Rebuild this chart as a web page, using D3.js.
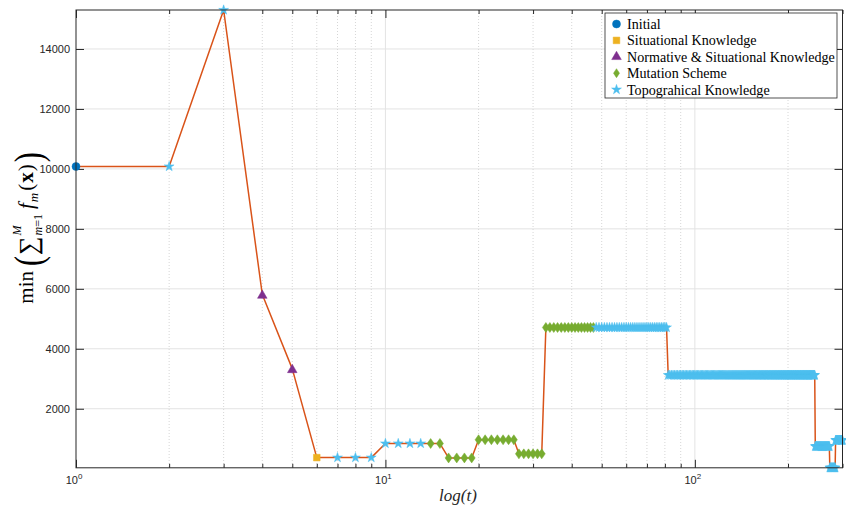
<!DOCTYPE html>
<html>
<head>
<meta charset="utf-8">
<script src="https://cdn.jsdelivr.net/npm/d3@7"></script>
<style>
  body { margin: 0; background: #fff; }
  svg { display: block; }
</style>
</head>
<body>
<svg id="chart" width="846" height="509"></svg>
<script>
// Best objective value per iteration, stored as runs of equal value with the
// operator that produced the points of each run.
const runStart  = [1,     2,     3,     4,    5,    6,   7,   10,  14,  16,  20,  27,  33,   48,   82,   245, 273, 285];
const runEnd    = [1,     2,     3,     4,    5,    6,   9,   13,  15,  19,  26,  32,  47,   81,   244,  272, 284, 300];
const runValue  = [10080, 10080, 15300, 5810, 3330, 370, 370, 840, 840, 360, 965, 495, 4710, 4710, 3120, 745, 30,  950];
const runSource = [0,     4,     4,     2,    2,    1,   4,   4,   3,   3,   3,   3,   3,    4,    4,    4,   4,   4];

const sources = ["Initial", "Situational Knowledge", "Normative & Situational Knowledge",
                 "Mutation Scheme", "Topograhical Knowledge"];
const sourceColors = ["#0072BD", "#EDB120", "#7E2F8E", "#77AC30", "#4DBEEE"];

const yTicks = [2000, 4000, 6000, 8000, 10000, 12000, 14000];
const xMajorTicks = [1, 10, 100];
const xMinorTicks = [2, 3, 4, 5, 6, 7, 8, 9, 20, 30, 40, 50, 60, 70, 80, 90, 200, 300];

// Expand the runs into one point per iteration
const points = [];
runStart.forEach((s, i) => {
  for (let t = s; t <= runEnd[i]; t++) points.push({ t, v: runValue[i], src: runSource[i] });
});

const svg = d3.select("#chart");
const L = 76, R = 842.5, T = 10, B = 467.8;

const x = d3.scaleLog().domain([1, 300]).range([L, R]);
const y = d3.scaleLinear().domain([30, 15300]).range([B, T]);

const axisColor = "#262626";
const tickFont = "'Liberation Sans', Arial, Helvetica, sans-serif";
const serif = "'Liberation Serif', 'Times New Roman', serif";

// Grid
const grid = svg.append("g");
grid.selectAll(".gy").data(yTicks).join("line")
  .attr("x1", L).attr("x2", R).attr("y1", d => y(d)).attr("y2", d => y(d))
  .attr("stroke", "#e3e3e3").attr("stroke-width", 1);
grid.selectAll(".gxm").data(xMinorTicks).join("line")
  .attr("x1", d => x(d)).attr("x2", d => x(d)).attr("y1", T).attr("y2", B)
  .attr("stroke", "#d6d6d6").attr("stroke-width", 1).attr("stroke-dasharray", "1,2");
grid.selectAll(".gx").data(xMajorTicks.filter(d => d > 1)).join("line")
  .attr("x1", d => x(d)).attr("x2", d => x(d)).attr("y1", T).attr("y2", B)
  .attr("stroke", "#e3e3e3").attr("stroke-width", 1);

// Axes (ticks pointing inward, mirrored on top and right)
const axB = d3.axisBottom(x).tickValues(xMajorTicks).tickSize(-8).tickFormat("");
const axBm = d3.axisBottom(x).tickValues(xMinorTicks).tickSize(-4).tickFormat("");
const axT = d3.axisTop(x).tickValues(xMajorTicks).tickSize(-8).tickFormat("");
const axTm = d3.axisTop(x).tickValues(xMinorTicks).tickSize(-4).tickFormat("");
const axL = d3.axisLeft(y).tickValues(yTicks).tickSize(-8).tickFormat("");
const axR = d3.axisRight(y).tickValues(yTicks).tickSize(-8).tickFormat("");

function styleAxis(g) {
  g.select(".domain").remove();
  g.selectAll(".tick line").attr("stroke", axisColor).attr("stroke-width", 1);
}
svg.append("g").attr("transform", `translate(0,${B})`).call(axB).call(styleAxis);
svg.append("g").attr("transform", `translate(0,${B})`).call(axBm).call(styleAxis);
svg.append("g").attr("transform", `translate(0,${T})`).call(axT).call(styleAxis);
svg.append("g").attr("transform", `translate(0,${T})`).call(axTm).call(styleAxis);
svg.append("g").attr("transform", `translate(${L},0)`).call(axL).call(styleAxis);
svg.append("g").attr("transform", `translate(${R},0)`).call(axR).call(styleAxis);

// Tick labels
svg.append("g").selectAll("text").data(yTicks).join("text")
  .attr("x", L - 6).attr("y", d => y(d)).attr("dy", "0.35em")
  .attr("text-anchor", "end").attr("font-family", tickFont).attr("font-size", 11)
  .attr("fill", axisColor).text(d => d);

const xl = svg.append("g").selectAll("text").data(xMajorTicks).join("text")
  .attr("x", d => x(d) - 2).attr("y", 484)
  .attr("text-anchor", "middle").attr("font-family", tickFont).attr("font-size", 11)
  .attr("fill", axisColor);
xl.append("tspan").text("10");
xl.append("tspan").attr("dy", -5).attr("font-size", 8).text(d => Math.round(Math.log10(d)));

// Series line
svg.append("path").datum(points)
  .attr("d", d3.line().x(d => x(d.t)).y(d => y(d.v)))
  .attr("fill", "none").attr("stroke", "#D95319").attr("stroke-width", 1.5)
  .attr("stroke-linejoin", "round");

// Marker shapes per operator
function diamondPath(w, h) {
  return `M0,${-h / 2}L${w / 2},0L0,${h / 2}L${-w / 2},0Z`;
}
const markerPath = [
  d3.symbol(d3.symbolCircle, 50)(),
  d3.symbol(d3.symbolSquare, 44)(),
  d3.symbol(d3.symbolTriangle, 40)(),
  diamondPath(7, 10),
  d3.symbol(d3.symbolStar, 30)()
];

sources.forEach((s, k) => {
  svg.append("g").selectAll("path")
    .data(points.filter(p => p.src === k)).join("path")
    .attr("d", markerPath[k])
    .attr("transform", d => `translate(${x(d.t)},${y(d.v)})${k === 2 ? "translate(0,1)" : ""}`)
    .attr("fill", sourceColors[k]).attr("stroke", sourceColors[k]).attr("stroke-width", 0.5);
});

// Plot box
svg.append("rect").attr("x", L).attr("y", T).attr("width", R - L).attr("height", B - T)
  .attr("fill", "none").attr("stroke", axisColor).attr("stroke-width", 1);

// Legend
const lg = svg.append("g");
lg.append("rect").attr("x", 605).attr("y", 13).attr("width", 232).attr("height", 85)
  .attr("fill", "#fff").attr("stroke", axisColor).attr("stroke-width", 0.8);
sources.forEach((s, k) => {
  const yy = 24 + k * 16.4;
  lg.append("path").attr("d", k === 3 ? diamondPath(6, 9) : markerPath[k])
    .attr("transform", `translate(616.5,${yy})`)
    .attr("fill", sourceColors[k]).attr("stroke", sourceColors[k]).attr("stroke-width", 0.5);
  lg.append("text").attr("x", 627).attr("y", yy).attr("dy", "0.35em")
    .attr("font-family", serif).attr("font-size", 14.1)
    .attr("fill", "#000").text(s);
});

// X label
svg.append("text").attr("x", 458).attr("y", 501).attr("text-anchor", "middle")
  .attr("font-family", serif).attr("font-style", "italic")
  .attr("font-size", 17).attr("fill", axisColor).text("log(t)");

// Y label: min( Σ_{m=1}^{M} f_m(x) ), laid out piece by piece along a rotated baseline
const yl = svg.append("g").attr("transform", "translate(33,228) rotate(-90)");
const pieces = [
  { t: "min", size: 21, gap: 5 },
  { t: "(", size: 40, dy: 9, gap: 1, sx: 0.75 },
  { t: "\u2211", size: 26, dy: 4, gap: 1 },
  { t: "m=1", size: 12, dy: 9, gap: 5, sup: "M" },
  { t: "f", size: 21, italic: true, gap: 1 },
  { t: "m", size: 13, italic: true, dy: 5, gap: 2 },
  { t: "(", size: 21, gap: 1 },
  { t: "x", size: 21, bold: true, gap: 1 },
  { t: ")", size: 21, gap: 2 },
  { t: ")", size: 40, dy: 9, gap: 0, sx: 0.75 }
];
let cx = 0;
const placed = [];
pieces.forEach(p => {
  const el = yl.append("text").attr("y", p.dy || 0)
    .attr("font-family", serif).attr("font-size", p.size).attr("fill", "#000");
  if (p.sup) {
    el.append("tspan").attr("font-style", "italic").text("m");
    el.append("tspan").text("=1");
  } else {
    el.text(p.t);
  }
  if (p.italic) el.attr("font-style", "italic");
  if (p.bold) el.attr("font-weight", "bold");
  const w = el.node().getComputedTextLength() * (p.sx || 1);
  placed.push({ el, x: cx, sx: p.sx });
  if (p.sup) {
    const s = yl.append("text").attr("y", -12).attr("font-family", serif)
      .attr("font-size", 12).attr("font-style", "italic").attr("fill", "#000").text(p.sup);
    placed.push({ el: s, x: cx });
  }
  cx += w + p.gap;
});
// center the whole label on the axis middle
placed.forEach(({ el, x: px, sx }) => {
  const nx = px - cx / 2;
  if (sx) el.attr("x", 0).attr("transform", `translate(${nx},0) scale(${sx},1)`);
  else el.attr("x", nx);
});
</script>
</body>
</html>
